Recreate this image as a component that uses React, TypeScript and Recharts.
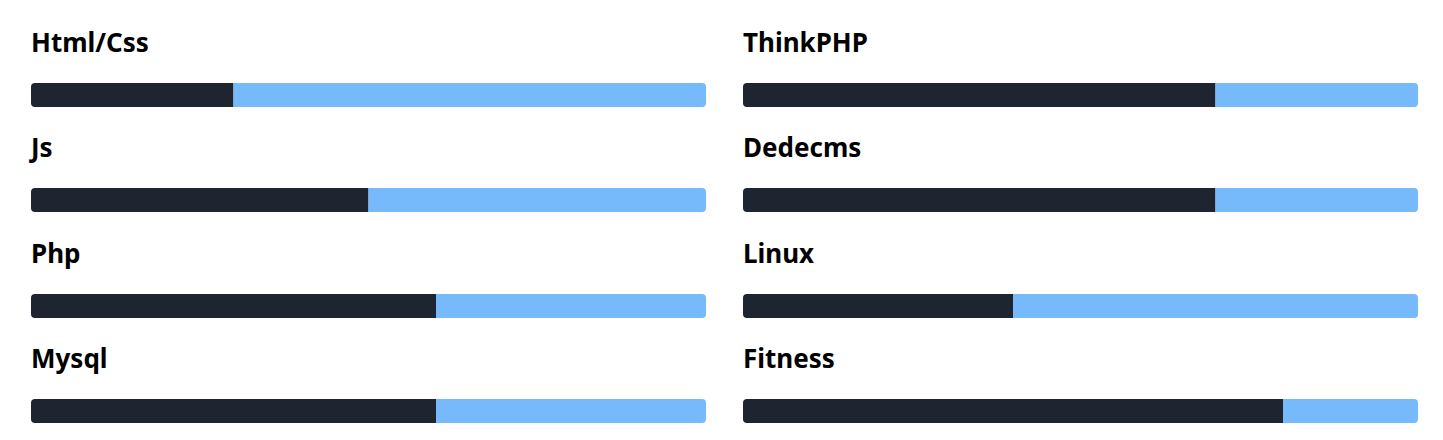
import React from 'react'
import { BarChart, Bar, XAxis, YAxis } from 'recharts'

// Skill levels, two columns
const leftSkills = ['Html/Css', 'Js', 'Php', 'Mysql']
const leftValues = [30, 50, 60, 60]
const rightSkills = ['ThinkPHP', 'Dedecms', 'Linux', 'Fitness']
const rightValues = [70, 70, 40, 80]

const DARK = '#1e2430'
const LIGHT = '#77bafc'
const BAR_W = 675
const BAR_H = 24
const ROW_TOPS = [83, 188, 294, 399]

function SkillBar({ name, value, left, top }: { name: string; value: number; left: number; top: number }) {
  const data = [{ name, value, rest: 100 - value }]
  return (
    <>
      <div
        style={{
          position: 'absolute',
          left,
          top: top - 56,
          fontFamily: '"Noto Sans", sans-serif',
          fontWeight: 700,
          fontSize: 26,
          lineHeight: '30px',
          color: '#000',
        }}
      >
        {name}
      </div>
      <div style={{ position: 'absolute', left, top }}>
        <BarChart
          width={BAR_W}
          height={BAR_H}
          data={data}
          layout="vertical"
          margin={{ top: 0, right: 0, bottom: 0, left: 0 }}
          barCategoryGap={0}
        >
          <XAxis type="number" domain={[0, 100]} hide />
          <YAxis type="category" dataKey="name" hide />
          <Bar dataKey="value" stackId="s" fill={DARK} radius={[4, 0, 0, 4]} isAnimationActive={false} />
          <Bar dataKey="rest" stackId="s" fill={LIGHT} radius={[0, 4, 4, 0]} isAnimationActive={false} />
        </BarChart>
      </div>
    </>
  )
}

export default function App() {
  return (
    <div style={{ position: 'absolute', left: 0, top: 0, width: 1443, height: 440, background: '#fff' }}>
      {leftSkills.map((s, i) => (
        <SkillBar key={s} name={s} value={leftValues[i]} left={31} top={ROW_TOPS[i]} />
      ))}
      {rightSkills.map((s, i) => (
        <SkillBar key={s} name={s} value={rightValues[i]} left={743} top={ROW_TOPS[i]} />
      ))}
    </div>
  )
}
